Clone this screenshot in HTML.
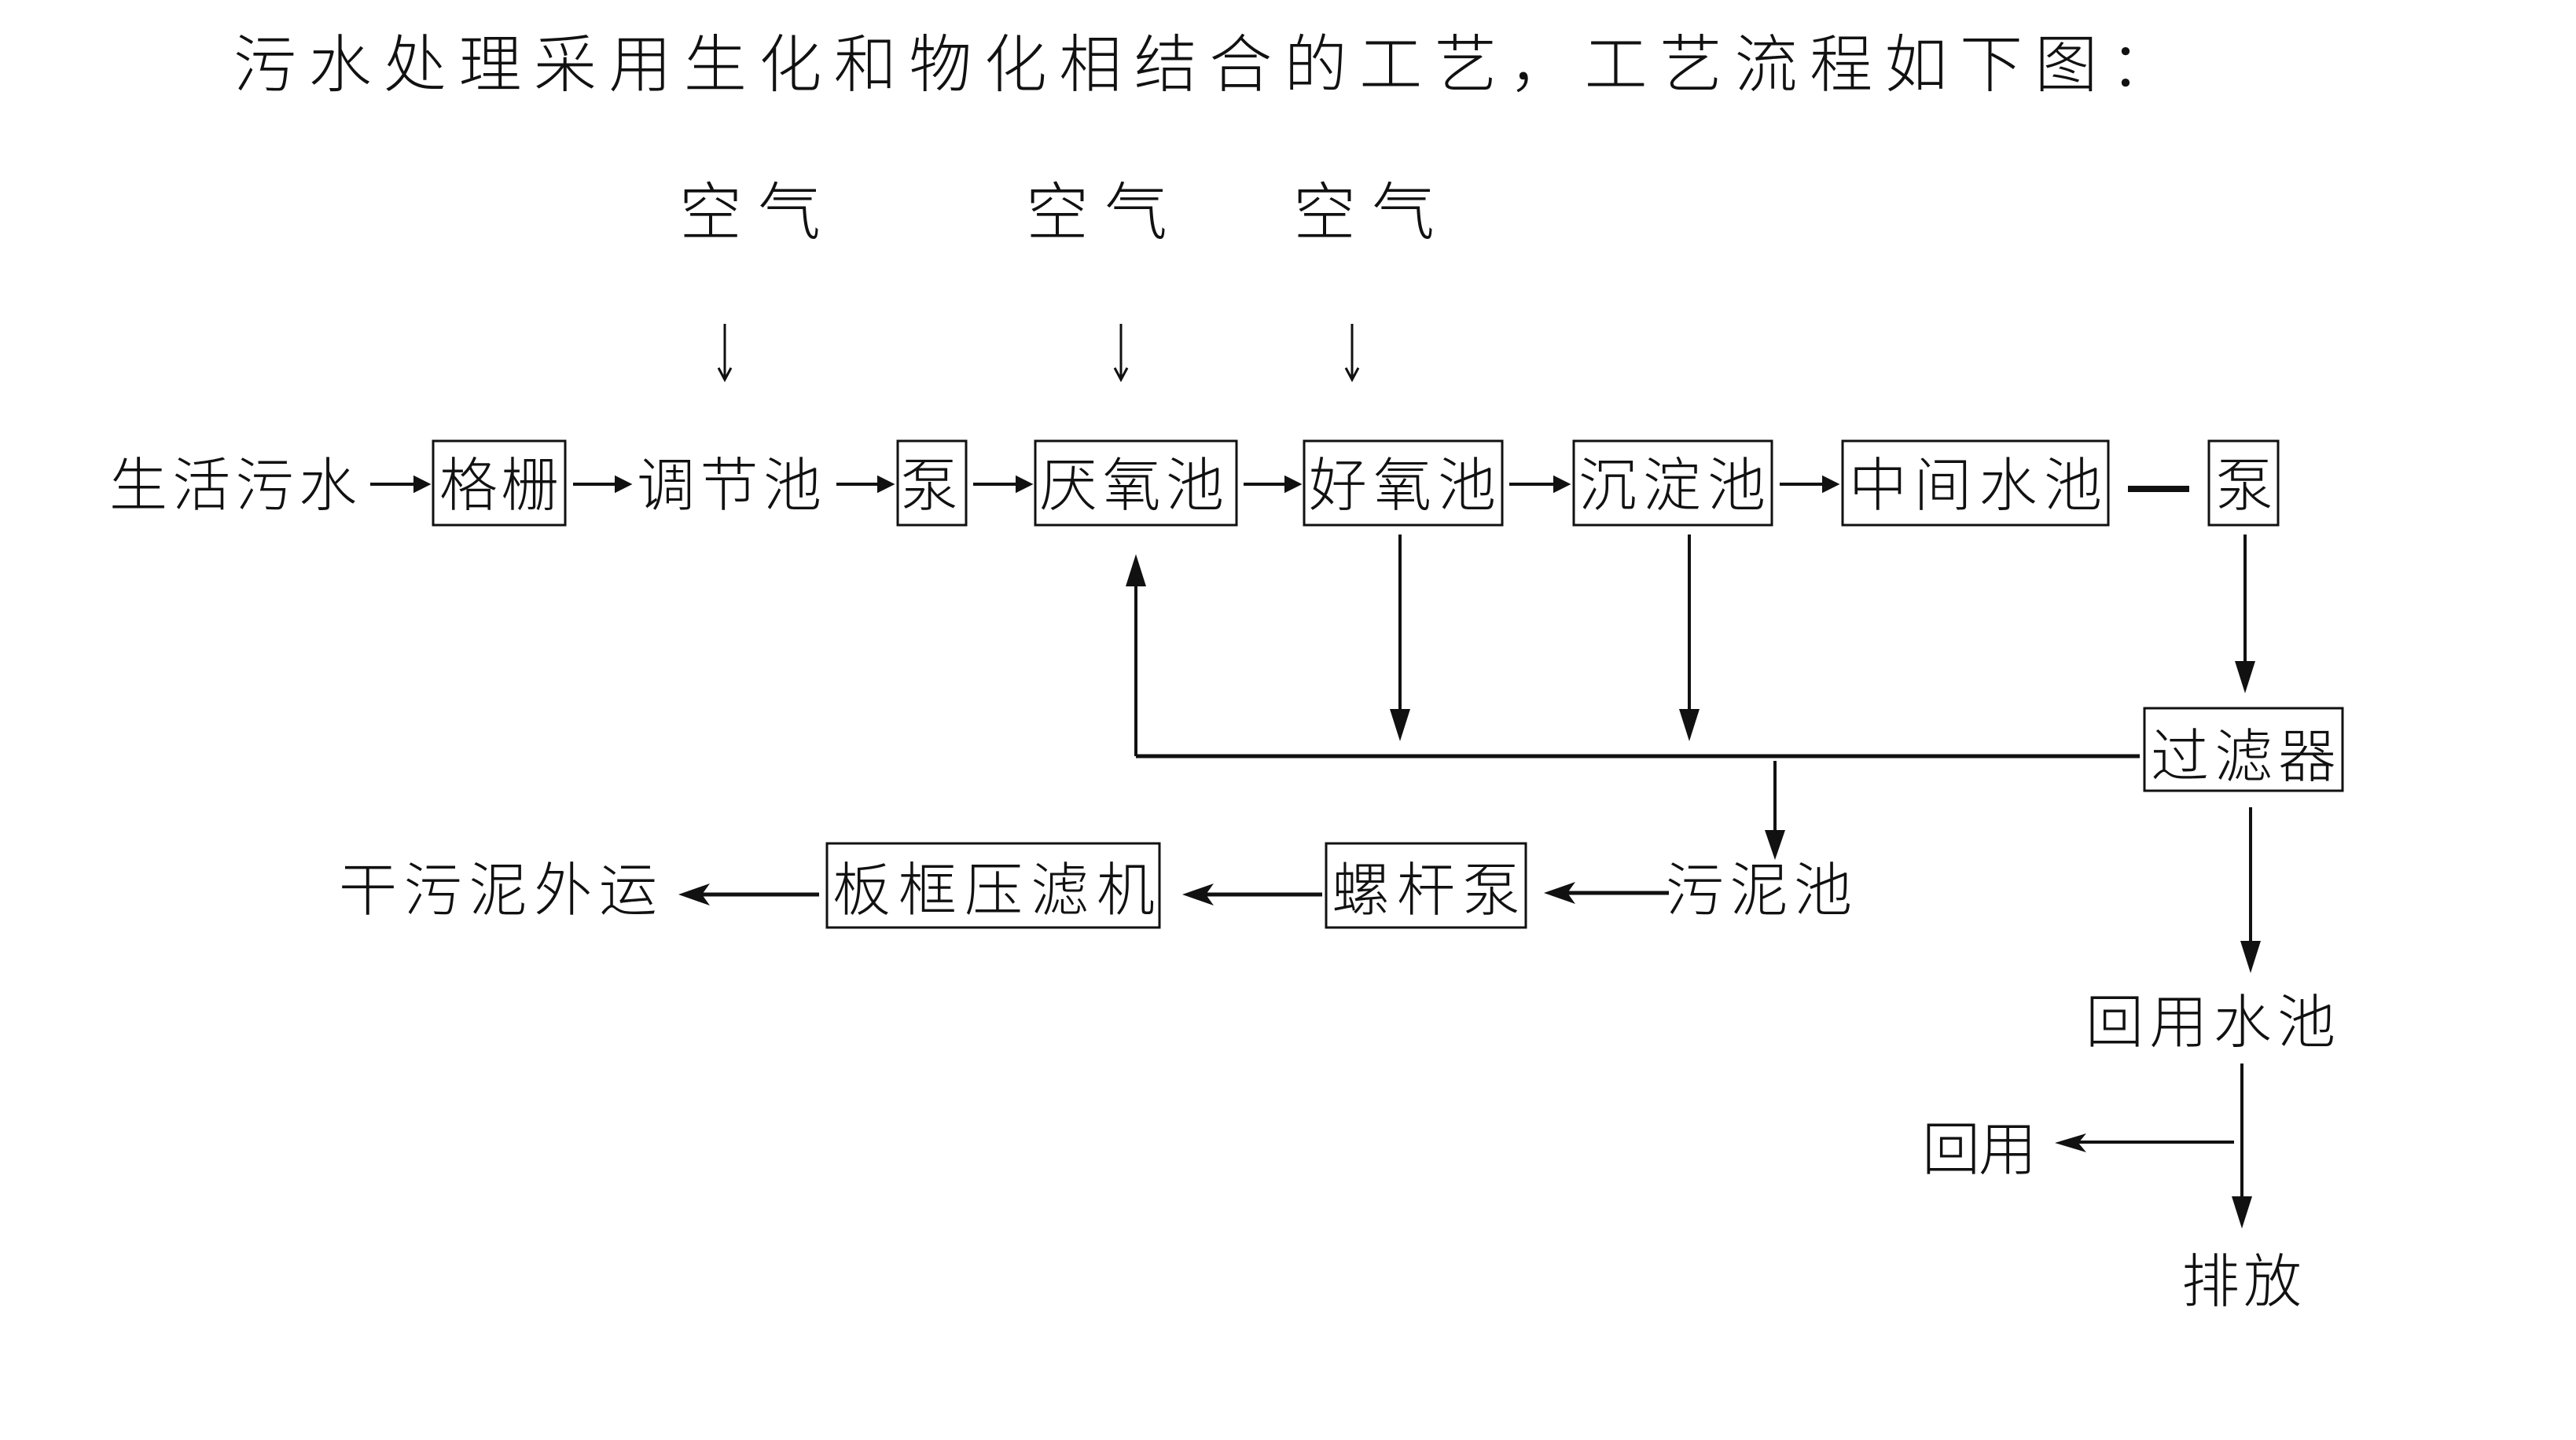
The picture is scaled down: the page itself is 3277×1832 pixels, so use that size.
<!DOCTYPE html>
<html><head><meta charset="utf-8"><style>
html,body{margin:0;padding:0;background:#fff;}
svg{display:block}
text{font-family:"Liberation Serif","Noto Sans CJK SC",sans-serif;fill:#111;font-weight:300;}
</style></head><body>
<svg width="3277" height="1832" viewBox="0 0 3277 1832" xmlns="http://www.w3.org/2000/svg">
<g transform="translate(-8,-2)">
<g font-size="80">
<text x="305" y="112" textLength="2467" lengthAdjust="spacing">污水处理采用生化和物化相结合的工艺，工艺流程如下图：</text>
<text x="872" y="300" textLength="180" lengthAdjust="spacing">空气</text>
<text x="1313" y="300" textLength="180" lengthAdjust="spacing">空气</text>
<text x="1653" y="300" textLength="180" lengthAdjust="spacing">空气</text>
</g>
<g stroke="#111" stroke-width="3" fill="none">
<line x1="930" y1="414" x2="930" y2="483"/><polyline points="922,470 930,485 938,470"/>
<line x1="1434" y1="414" x2="1434" y2="483"/><polyline points="1426,470 1434,485 1442,470"/>
<line x1="1728" y1="414" x2="1728" y2="483"/><polyline points="1720,470 1728,485 1736,470"/>
</g>
<g font-size="74">
<text x="147" y="645" textLength="315" lengthAdjust="spacing">生活污水</text>
<text x="567" y="645" textLength="152" lengthAdjust="spacing">格栅</text>
<text x="818" y="645" textLength="235" lengthAdjust="spacing">调节池</text>
<text x="1153" y="645" textLength="72">泵</text>
<text x="1330" y="645" textLength="235" lengthAdjust="spacing">厌氧池</text>
<text x="1673" y="645" textLength="238" lengthAdjust="spacing">好氧池</text>
<text x="2016" y="645" textLength="238" lengthAdjust="spacing">沉淀池</text>
<text x="2360" y="645" textLength="322" lengthAdjust="spacing">中间水池</text>
<text x="2826" y="645" textLength="72">泵</text>
<text x="2744" y="990" textLength="236" lengthAdjust="spacing">过滤器</text>
<text x="1067" y="1160" textLength="410" lengthAdjust="spacing">板框压滤机</text>
<text x="1702" y="1160" textLength="240" lengthAdjust="spacing">螺杆泵</text>
<text x="2127" y="1160" textLength="237" lengthAdjust="spacing">污泥池</text>
<text x="439" y="1160" textLength="405" lengthAdjust="spacing">干污泥外运</text>
<text x="2661" y="1328" textLength="318" lengthAdjust="spacing">回用水池</text>
<text x="2453" y="1490" textLength="146" lengthAdjust="spacing">回用</text>
<text x="2783" y="1658" textLength="153" lengthAdjust="spacing">排放</text>
</g>
<g stroke="#111" stroke-width="3" fill="none">
<rect x="559" y="563" width="168" height="107"/>
<rect x="1150" y="563" width="87" height="107"/>
<rect x="1325" y="563" width="256" height="107"/>
<rect x="1667" y="563" width="252" height="107"/>
<rect x="2010" y="563" width="252" height="107"/>
<rect x="2352" y="563" width="338" height="107"/>
<rect x="2818" y="563" width="88" height="107"/>
<rect x="2736" y="903" width="252" height="105"/>
<rect x="1060" y="1075" width="423" height="107"/>
<rect x="1695" y="1075" width="254" height="107"/>
</g>
<g stroke="#111" stroke-width="4" fill="#111">
<line x1="479" y1="618" x2="540" y2="618"/><polygon points="552,618 536,610 536,626"/>
<line x1="737" y1="618" x2="796" y2="618"/><polygon points="808,618 792,610 792,626"/>
<line x1="1072" y1="618" x2="1130" y2="618"/><polygon points="1142,618 1126,610 1126,626"/>
<line x1="1246" y1="618" x2="1306" y2="618"/><polygon points="1318,618 1302,610 1302,626"/>
<line x1="1590" y1="618" x2="1648" y2="618"/><polygon points="1660,618 1644,610 1644,626"/>
<line x1="1928" y1="618" x2="1990" y2="618"/><polygon points="2002,618 1986,610 1986,626"/>
<line x1="2272" y1="618" x2="2332" y2="618"/><polygon points="2344,618 2328,610 2328,626"/>
</g>
<g stroke="#111" stroke-width="5" fill="#111">
<line x1="2715" y1="624" x2="2793" y2="624" stroke-width="8"/>
<line x1="1453" y1="964" x2="2730" y2="964" stroke-width="5"/>
<line x1="1453" y1="964" x2="1453" y2="740" stroke-width="4"/>
<polygon points="1453,707 1440,748 1466,748" stroke="none"/>
<line x1="1789" y1="682" x2="1789" y2="910" stroke-width="4"/>
<polygon points="1789,945 1776,904 1802,904" stroke="none"/>
<line x1="2157" y1="682" x2="2157" y2="910" stroke-width="4"/>
<polygon points="2157,945 2144,904 2170,904" stroke="none"/>
<line x1="2266" y1="970" x2="2266" y2="1065" stroke-width="4"/>
<polygon points="2266,1096 2253,1058 2279,1058" stroke="none"/>
<line x1="2864" y1="682" x2="2864" y2="850" stroke-width="4"/>
<polygon points="2864,884 2851,843 2877,843" stroke="none"/>
<line x1="2871" y1="1029" x2="2871" y2="1205" stroke-width="4"/>
<polygon points="2871,1240 2858,1199 2884,1199" stroke="none"/>
<line x1="2860" y1="1355" x2="2860" y2="1530" stroke-width="4"/>
<polygon points="2860,1565 2847,1524 2873,1524" stroke="none"/>
<line x1="2850" y1="1455" x2="2650" y2="1455" stroke-width="4"/>
<polygon points="2622,1456 2662,1444 2652,1456 2662,1468" stroke="none"/>
<line x1="2131" y1="1138" x2="2000" y2="1138" stroke-width="5"/>
<polygon points="1972,1138 2012,1124 2002,1138 2012,1152" stroke="none"/>
<line x1="1690" y1="1140" x2="1540" y2="1140" stroke-width="5"/>
<polygon points="1512,1140 1552,1126 1542,1140 1552,1154" stroke="none"/>
<line x1="1050" y1="1140" x2="900" y2="1140" stroke-width="5"/>
<polygon points="871,1140 911,1126 901,1140 911,1154" stroke="none"/>
</g>
</g>
</svg>
</body></html>
